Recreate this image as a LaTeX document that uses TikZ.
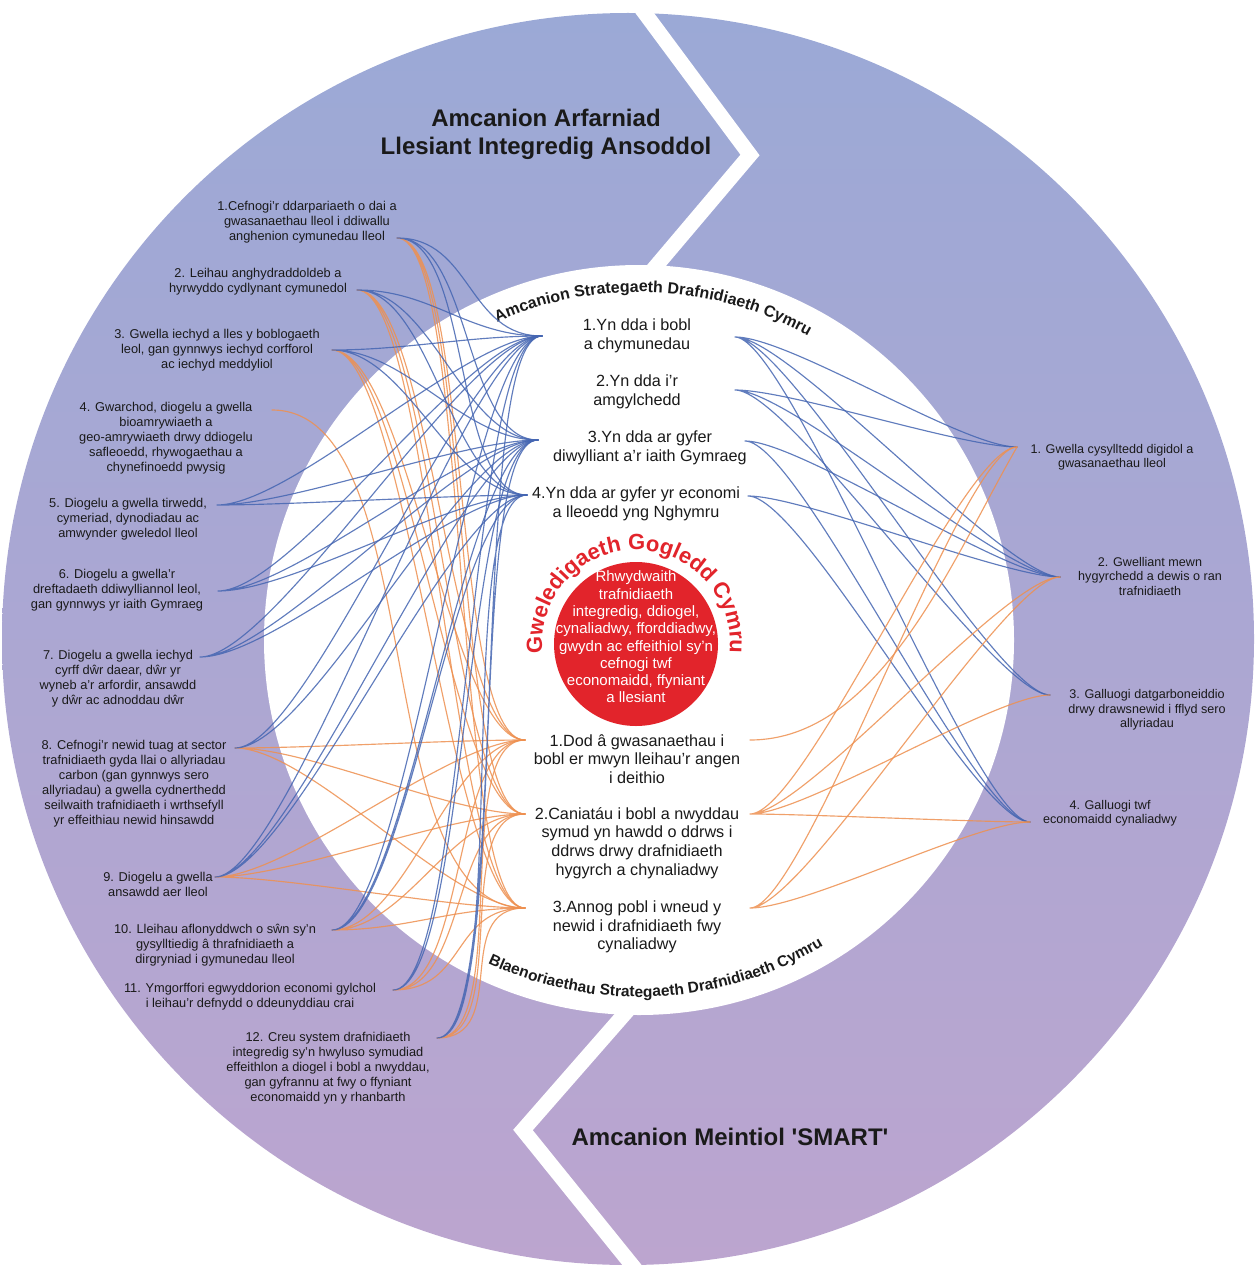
\documentclass[tikz,border=0pt]{standalone}
\usepackage{fontspec}
\setmainfont{Liberation Sans}
\usetikzlibrary{decorations.text}
\definecolor{ringtop}{HTML}{9BA9D6}
\definecolor{ringbot}{HTML}{BCA5CF}
\definecolor{visred}{HTML}{E2242B}
\definecolor{linkblue}{HTML}{4566B2}
\definecolor{linkorange}{HTML}{EE9050}
\definecolor{ink}{HTML}{1A1A1A}
\newcommand{\sq}{\XeTeXglyph\XeTeXglyphindex "quotesingle"\relax}
\tikzset{
  goal/.style={align=center, inner sep=0pt, text=ink, font=\fontsize{12.8}{15}\selectfont},
  aim/.style={align=center, inner sep=0pt, text=ink, font=\fontsize{16.2}{18.7}\selectfont},
  target/.style={align=center, inner sep=0pt, text=ink, font=\fontsize{12.6}{14.5}\selectfont},
  heading/.style={align=center, inner sep=0pt, text=ink, font=\fontsize{24}{28}\selectfont\bfseries},
  bluelink/.style={draw=linkblue, line width=1.15pt, opacity=0.85, out=0, in=180, distance=75pt},
  orangelink/.style={draw=linkorange, line width=1.15pt, opacity=0.85, out=0, in=180, distance=75pt},
  rightlink/.style={distance=55pt}
}
\begin{document}
\begin{tikzpicture}[x=1pt,y=1pt,line cap=round,line join=round]
\useasboundingbox (0,0) rectangle (1255,-1265);
% centres
\coordinate (ringc) at (628,-639);
\coordinate (innc) at (639,-640);
\coordinate (visc) at (636,-644);
% outer ring and white chevrons
\shade[top color=ringtop, bottom color=ringbot] (ringc) circle[radius=626];
\draw[white, line width=15pt, line join=miter] (635,0) -- (750,-155) -- (640,-285);
\draw[white, line width=15pt, line join=miter] (628,-1010) -- (523,-1130) -- (636,-1270);
\fill[white] (innc) circle[radius=375];
\fill[visred] (visc) circle[radius=82];

% curved labels
\path[decorate, decoration={text along path, text align=center, text color=ink,
  text={|\fontsize{16}{16}\selectfont\bfseries|Amcanion Strategaeth Drafnidiaeth Cymru}}]
  ([shift={(120:348)}]innc) arc[start angle=120, end angle=55, radius=348];
\path[decorate, decoration={text along path, text align=center, text color=ink,
  text={|\fontsize{15.5}{15.5}\selectfont\bfseries|Blaenoriaethau Strategaeth Drafnidiaeth Cymru}}]
  ([shift={(240:357)}]innc) arc[start angle=240, end angle=306, radius=357];
\path[decorate, decoration={text along path, text align=center, text color=visred,
  text={|\fontsize{22}{22}\selectfont\bfseries|Gweledigaeth Gogledd Cymru}}]
  ([shift={(194:94)}]visc) arc[start angle=194, end angle=-14, radius=94];

% ports
\coordinate (l1p) at (397,-238);
\coordinate (l2p) at (357,-290);
\coordinate (l3p) at (332,-350);
\coordinate (l4p) at (272,-410);
\coordinate (l5p) at (217,-505);
\coordinate (l6p) at (218,-591);
\coordinate (l7p) at (200,-657);
\coordinate (l8p) at (235,-748);
\coordinate (l9p) at (215,-877);
\coordinate (l10p) at (332,-930);
\coordinate (l11p) at (393,-990);
\coordinate (l12p) at (437,-1038);
\coordinate (a1w) at (542,-336);
\coordinate (a3w) at (538,-440);
\coordinate (a4w) at (527,-495);
\coordinate (b1w) at (525,-740);
\coordinate (b2w) at (525,-814);
\coordinate (b3w) at (525,-908);
\coordinate (a1e) at (735,-337);
\coordinate (a2e) at (735,-390);
\coordinate (a3e) at (745,-441);
\coordinate (a4e) at (748,-496);
\coordinate (b1e) at (750,-740);
\coordinate (b2e) at (750,-814);
\coordinate (b3e) at (750,-908);
\coordinate (r1p) at (1017,-447);
\coordinate (r2p) at (1060,-577);
\coordinate (r3p) at (1050,-695);
\coordinate (r4p) at (1030,-822);

% left links
\draw[orangelink] (l1p) to (b1w) (l1p) to (b2w) (l1p) to (b3w);
\draw[orangelink] (l2p) to (b1w) (l2p) to (b2w) (l2p) to (b3w);
\draw[orangelink] (l3p) to (b1w) (l3p) to (b2w) (l3p) to (b3w);
\draw[orangelink, distance=160pt] (l4p) to (b3w);
\draw[orangelink] (l8p) to (b1w) (l8p) to (b2w) (l8p) to (b3w);
\draw[orangelink] (l9p) to (b1w) (l9p) to (b2w) (l9p) to (b3w);
\draw[orangelink] (l10p) to (b1w) (l10p) to (b2w) (l10p) to (b3w);
\draw[orangelink] (l11p) to (b1w) (l11p) to (b2w) (l11p) to (b3w);
\draw[orangelink] (l12p) to (b1w) (l12p) to (b2w) (l12p) to (b3w);
\draw[bluelink] (l1p) to (a1w) (l1p) to (a3w) (l1p) to (a4w);
\draw[bluelink] (l2p) to (a1w) (l2p) to (a3w) (l2p) to (a4w);
\draw[bluelink] (l3p) to (a1w) (l3p) to (a3w) (l3p) to (a4w);
\draw[bluelink] (l5p) to (a1w) (l5p) to (a3w) (l5p) to (a4w);
\draw[bluelink] (l6p) to (a1w) (l6p) to (a3w) (l6p) to (a4w);
\draw[bluelink] (l7p) to (a1w) (l7p) to (a3w) (l7p) to (a4w);
\draw[bluelink] (l8p) to (a1w) (l8p) to (a3w);
\draw[bluelink] (l9p) to (a1w) (l9p) to (a3w) (l9p) to (a4w);
\draw[bluelink] (l10p) to (a1w) (l10p) to (a3w) (l10p) to (a4w);
\draw[bluelink] (l11p) to (a1w) (l11p) to (a3w);
\draw[bluelink] (l12p) to (a1w) (l12p) to (a3w) (l12p) to (a4w);

% right links
\draw[bluelink, rightlink] (a1e) to (r1p) (a1e) to (r2p) (a1e) to (r3p) (a1e) to (r4p);
\draw[bluelink, rightlink] (a2e) to (r1p) (a2e) to (r2p) (a2e) to (r3p);
\draw[bluelink, rightlink] (a3e) to (r2p) (a3e) to (r4p);
\draw[bluelink, rightlink] (a4e) to (r2p) (a4e) to (r4p);
\draw[orangelink, in=240, distance=130pt] (b1e) to (r1p);
\draw[orangelink, rightlink] (b2e) to (r1p) (b2e) to (r2p) (b2e) to (r3p) (b2e) to (r4p);
\draw[orangelink, rightlink] (b3e) to (r1p) (b3e) to (r2p) (b3e) to (r4p);

% headings
\node[heading] (qual) at (546,-134) {Amcanion Arfarniad\\Llesiant Integredig Ansoddol};
\node[heading] (smart) at (730,-1137) {Amcanion Meintiol \sq SMART\sq};

% left goals
\node[goal] (l1) at (307,-222) {1.Cefnogi'r ddarpariaeth o dai a\\gwasanaethau lleol i ddiwallu\\anghenion cymunedau lleol};
\node[goal] (l2) at (258,-282) {2. Leihau anghydraddoldeb a\\hyrwyddo cydlynant cymunedol};
\node[goal] (l3) at (217,-350) {3. Gwella iechyd a lles y boblogaeth\\leol, gan gynnwys iechyd corfforol\\ac iechyd meddyliol};
\node[goal] (l4) at (166,-438) {4. Gwarchod, diogelu a gwella\\bioamrywiaeth a\\geo-amrywiaeth drwy ddiogelu\\safleoedd, rhywogaethau a\\chynefinoedd pwysig};
\node[goal] (l5) at (128,-519) {5. Diogelu a gwella tirwedd,\\cymeriad, dynodiadau ac\\amwynder gweledol lleol};
\node[goal] (l6) at (117,-590) {6. Diogelu a gwella'r\\dreftadaeth ddiwylliannol leol,\\gan gynnwys yr iaith Gymraeg};
\node[goal] (l7) at (118,-679) {7. Diogelu a gwella iechyd\\cyrff dŵr daear, dŵr yr\\wyneb a'r arfordir, ansawdd\\y dŵr ac adnoddau dŵr};
\node[goal] (l8) at (134,-784) {8. Cefnogi'r newid tuag at sector\\trafnidiaeth gyda llai o allyriadau\\carbon (gan gynnwys sero\\allyriadau) a gwella cydnerthedd\\seilwaith trafnidiaeth i wrthsefyll\\yr effeithiau newid hinsawdd};
\node[goal] (l9) at (158,-884) {9. Diogelu a gwella\\ansawdd aer lleol};
\node[goal] (l10) at (215,-945) {10. Lleihau aflonyddwch o sŵn sy'n\\gysylltiedig â thrafnidiaeth a\\dirgryniad i gymunedau lleol};
\node[goal] (l11) at (250,-997) {11. Ymgorffori egwyddorion economi gylchol\\i leihau'r defnydd o ddeunyddiau crai};
\node[goal] (l12) at (328,-1068) {12. Creu system drafnidiaeth\\integredig sy'n hwyluso symudiad\\effeithlon a diogel i bobl a nwyddau,\\gan gyfrannu at fwy o ffyniant\\economaidd yn y rhanbarth};

% middle aims and priorities
\node[aim] (a1) at (637,-336) {1.Yn dda i bobl\\a chymunedau};
\node[aim] (a2) at (637,-392) {2.Yn dda i’r\\amgylchedd};
\node[aim] (a3) at (650,-448) {3.Yn dda ar gyfer\\diwylliant a’r iaith Gymraeg};
\node[aim] (a4) at (636,-504) {4.Yn dda ar gyfer yr economi\\a lleoedd yng Nghymru};
\node[align=center, inner sep=0pt, text=white, font=\fontsize{15}{17.3}\selectfont] (vision) at (636,-637)
  {Rhwydwaith\\trafnidiaeth\\integredig, ddiogel,\\cynaliadwy, fforddiadwy,\\gwydn ac effeithiol sy'n\\cefnogi twf\\economaidd, ffyniant\\a llesiant};
\node[aim] (b1) at (637,-759) {1.Dod â gwasanaethau i\\bobl er mwyn lleihau’r angen\\i deithio};
\node[aim] (b2) at (637,-843) {2.Caniatáu i bobl a nwyddau\\symud yn hawdd o ddrws i\\ddrws drwy drafnidiaeth\\hygyrch a chynaliadwy};
\node[aim] (b3) at (637,-927) {3.Annog pobl i wneud y\\newid i drafnidiaeth fwy\\cynaliadwy};

% right targets
\node[target] (r1) at (1112,-457) {1. Gwella cysylltedd digidol a\\gwasanaethau lleol};
\node[target] (r2) at (1150,-576) {2. Gwelliant mewn\\hygyrchedd a dewis o ran\\trafnidiaeth};
\node[target] (r3) at (1147,-710) {3. Galluogi datgarboneiddio\\drwy drawsnewid i fflyd sero\\allyriadau};
\node[target] (r4) at (1110,-813) {4. Galluogi twf\\economaidd cynaliadwy};
\end{tikzpicture}
\end{document}
